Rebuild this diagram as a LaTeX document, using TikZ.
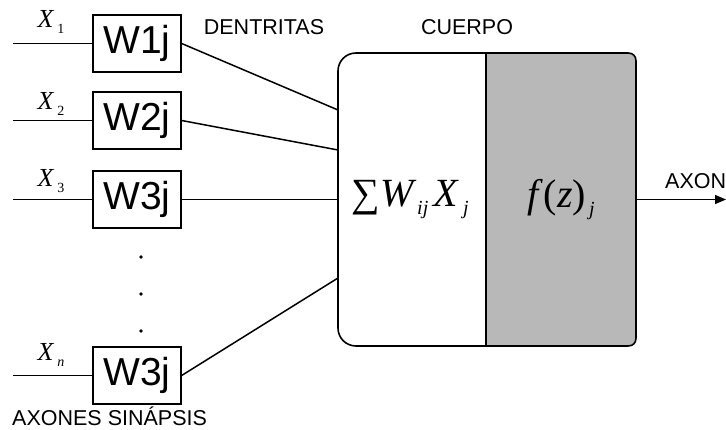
\documentclass[tikz,border=0pt]{standalone}
\usepackage{fontspec}
\setmainfont{Liberation Sans}
\newfontfamily\tms{Liberation Serif}
\usetikzlibrary{arrows.meta}
\newcommand\lowsub[2]{\raisebox{-#1}{\fontsize{14}{14}\selectfont #2}}
\begin{document}
\begin{tikzpicture}[x=1pt,y=-1pt,
  wbox/.style={draw, line width=1.3pt, minimum width=88pt, minimum height=57pt, inner sep=0pt, font=\fontsize{39}{39}\selectfont},
  lbl/.style={font=\fontsize{21.5}{21.5}\selectfont, inner sep=0pt},
  xlbl/.style={font=\tms\itshape\fontsize{26}{26}\selectfont, inner sep=0pt},
  wire/.style={line width=1.5pt},
  bodyline/.style={line width=1.6pt},
  shade/.style={fill=black!28},
  dotm/.style={circle, fill=black, inner sep=0pt, minimum size=3.6pt},
  math/.style={font=\tms\fontsize{40}{40}\selectfont, inner sep=0pt},
]
\useasboundingbox (0,0) rectangle (726,430);

% body
\fill[shade] (486,53) -- (628,53) .. controls (633,53) and (636,56) .. (636,61)
  -- (636,338) .. controls (636,343) and (633,346) .. (628,346) -- (486,346) -- cycle;
\draw[bodyline] (356,53) -- (628,53) .. controls (633,53) and (636,56) .. (636,61)
  -- (636,338) .. controls (636,343) and (633,346) .. (628,346) -- (356,346)
  .. controls (346,346) and (338,338) .. (338,328) -- (338,71)
  .. controls (338,61) and (346,53) .. (356,53) -- cycle;
\draw[line width=1.2pt] (486,53) -- (486,346);

\node[math, minimum width=148pt, minimum height=293pt] (sum) at (410,199.5)
  {∑\kern1pt\textit{W}\lowsub{8pt}{\fontsize{20}{20}\selectfont\textit{ij}}\kern5pt\textit{X}\kern4pt\lowsub{8pt}{\fontsize{20}{20}\selectfont\textit{j}}};
\node[math, minimum width=150pt, minimum height=293pt] (fz) at (561,199.5)
  {\textit{f}\kern1pt(\textit{z})\kern3pt\lowsub{8pt}{\fontsize{20}{20}\selectfont\textit{j}}};

% weight boxes
\node[wbox] (w1) at (137,43.5) {W1j};
\node[wbox] (w2) at (137,120.5) {W2j};
\node[wbox] (w3) at (137,199.5) {W3j};
\node[wbox] (wn) at (137,375.5) {W3j};

% inputs
\coordinate (i1) at (13,43.5);
\coordinate (i2) at (13,120.5);
\coordinate (i3) at (13,199.5);
\coordinate (in) at (13,375.5);
\draw[wire] (i1) -- (w1.west);
\draw[wire] (i2) -- (w2.west);
\draw[wire] (i3) -- (w3.west);
\draw[wire] (in) -- (wn.west);

\node[xlbl] (x1) at (51,22) {X\kern4pt\lowsub{6pt}{\upshape 1}};
\node[xlbl] (x2) at (51,104) {X\kern4pt\lowsub{6pt}{\upshape 2}};
\node[xlbl] (x3) at (51,181) {X\kern4pt\lowsub{6pt}{\upshape 3}};
\node[xlbl] (xn) at (51,355) {X\kern4pt\lowsub{6pt}{n}};

% dots
\node[dotm] (p1) at (141,257) {};
\node[dotm] (p2) at (141,294) {};
\node[dotm] (p3) at (141,331) {};

% dendrites
\coordinate (d1) at (338,110);
\coordinate (d2) at (338,150);
\coordinate (d3) at (338,199.5);
\coordinate (d4) at (338,278);
\draw[wire] (w1.east) -- (d1);
\draw[wire] (w2.east) -- (d2);
\draw[wire] (w3.east) -- (d3);
\draw[wire] (wn.east) -- (d4);

% axon
\coordinate (axe) at (726,199.5);
\draw[wire,-{Triangle[length=11pt,width=9pt]}] (fz.east) -- (axe);

% labels
\node[lbl, anchor=base] (dent) at (264,35) {DENTRITAS};
\node[lbl, anchor=base] (cuer) at (467,35) {CUERPO};
\node[lbl, anchor=base west] (axon) at (665,189) {AXON};
\node[lbl, anchor=base west] (axs) at (12,425) {AXONES SINÁPSIS};
\end{tikzpicture}
\end{document}
